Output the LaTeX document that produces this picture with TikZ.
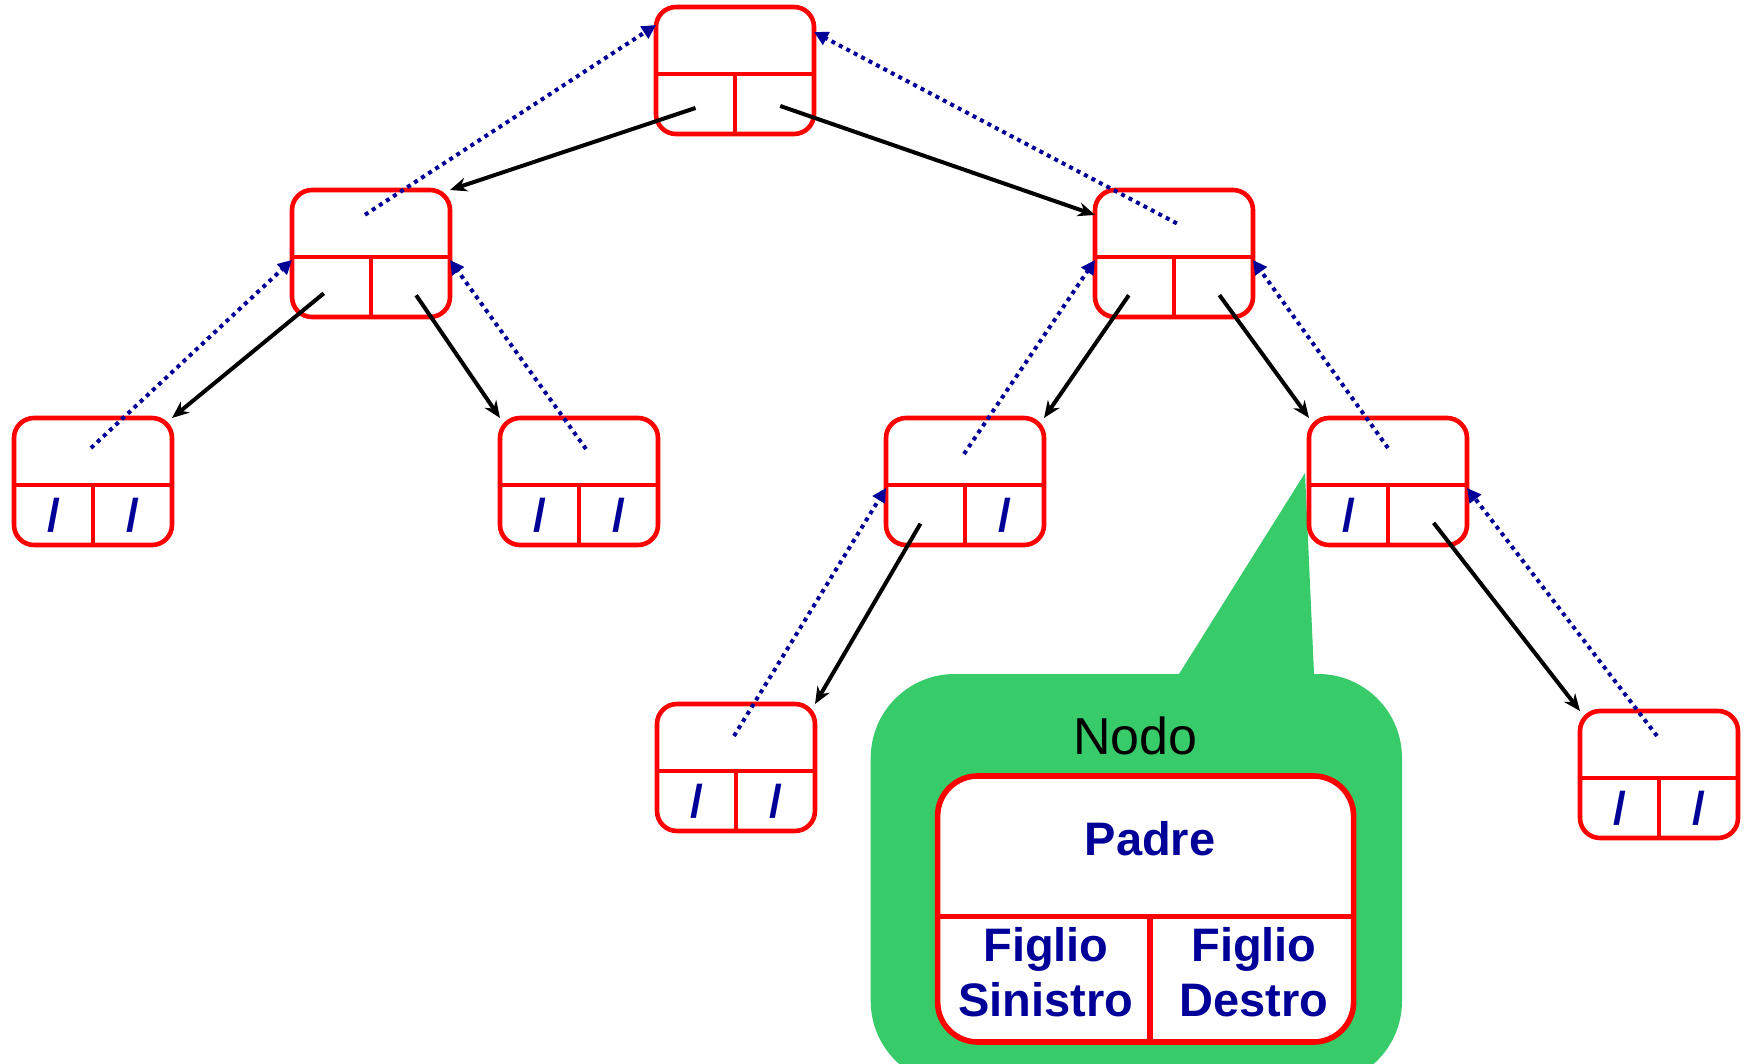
\documentclass[tikz,border=0pt]{standalone}
\usepackage{fontspec}
\setmainfont{Liberation Sans}
\usetikzlibrary{arrows.meta,calc}
\definecolor{nred}{RGB}{255,0,0}
\definecolor{nblue}{RGB}{0,0,153}
\definecolor{cgreen}{RGB}{55,203,105}
\newcommand\treenode[5]{%
  \node[tnode] (#1) at (#2,#3) {};
  \draw[sepline] ([yshift=-33.5pt]#1.north west) -- ([yshift=-33.5pt]#1.north east);
  \draw[sepline] ([yshift=-33.5pt]#1.north) -- (#1.south);
  \node[cell] (#1-l) at ([xshift=-19.75pt,yshift=15pt]#1.south) {#4};
  \node[cell] (#1-r) at ([xshift=19.75pt,yshift=15pt]#1.south) {#5};
  \coordinate (#1-t) at ([yshift=-15pt]#1.north);
}
\begin{document}
\begin{tikzpicture}[x=0.5pt,y=-0.5pt,
  tnode/.style={draw=nred,line width=2.3pt,rounded corners=10pt,minimum width=79pt,minimum height=63.5pt,inner sep=0pt,outer sep=0pt,fill=white},
  sepline/.style={draw=nred,line width=2.3pt},
  cell/.style={inner sep=0pt,text=nblue,font=\fontsize{23}{23}\selectfont\bfseries},
  child/.style={draw=black,line width=2pt,-{Stealth[length=8.5pt,width=7pt]}},
  parent/.style={draw=nblue,line width=2pt,dash pattern=on 2pt off 2.2pt,-{Triangle[length=7pt,width=7pt]}},
  bigbox/.style={draw=nred,line width=2.8pt,rounded corners=20pt,fill=white,minimum width=208pt,minimum height=133pt,inner sep=0pt,outer sep=0pt},
  bigtext/.style={text=nblue,align=center,inner sep=0pt,font=\fontsize{23.5}{27.25}\selectfont\bfseries},
]
\useasboundingbox[fill=white] (0,0) rectangle (1744,1064);

% callout
\begin{scope}
  \clip (0,0) rectangle (1744,1064);
  \fill[cgreen] (1162.7,700) -- (1305,473) -- (1315.2,700) -- cycle;
  \fill[cgreen,rounded corners=42pt] (870.7,674) rectangle (1402,1085);
\end{scope}
\node[inner sep=0pt,font=\fontsize{26}{26}\selectfont] (nodo) at (1135.5,736) {Nodo};
\node[bigbox] (big) at (1145.6,909) {};
\draw[draw=nred,line width=2.8pt] ([yshift=-70.25pt]big.north west) -- ([yshift=-70.25pt]big.north east);
\draw[draw=nred,line width=2.8pt] ([xshift=2.2pt,yshift=-70.25pt]big.north) -- ([xshift=2.2pt]big.south);
\node[bigtext] (padre) at (1150,838.6) {Padre};
\node[bigtext] (fsin) at (1046,972) {Figlio\\Sinistro};
\node[bigtext] (fdes) at (1254,972) {Figlio\\Destro};

% tree nodes
\treenode{root}{735}{70.5}{}{}
\treenode{n1}{371}{253.5}{}{}
\treenode{n2}{1174}{253.5}{}{}
\treenode{n3}{93}{481.5}{/}{/}
\treenode{n4}{579}{481.5}{/}{/}
\treenode{n5}{965}{481.5}{}{/}
\treenode{n6}{1388}{481.5}{/}{}
\treenode{n7}{736}{767.5}{/}{/}
\treenode{n8}{1659}{774.5}{/}{/}

% child pointers
\draw[child] ([yshift=-2pt]root-l.center) -- (n1.north east);
\draw[child,shorten <=3pt] (root-r.center) -- ([yshift=-12.5pt]n2.north west);
\draw[child,shorten <=5pt] (n1-l.center) -- (n3.north east);
\draw[child,shorten <=5pt] (n1-r.center) -- (n4.north west);
\draw[child,shorten <=5pt] (n2-l.center) -- (n5.north east);
\draw[child,shorten <=5pt] (n2-r.center) -- (n6.north west);
\draw[child,shorten <=5pt] (n5-l.center) -- (n7.north east);
\draw[child,shorten <=5pt] (n6-r.center) -- (n8.north west);

% parent pointers
\draw[parent] ([xshift=-3pt,yshift=2.6pt]n1-t) -- ([yshift=-9pt]root.north west);
\draw[parent] ([xshift=1.4pt,yshift=-1.7pt]n2-t) -- ([yshift=-12.5pt]root.north east);
\draw[parent] ([xshift=-1pt]n3-t) -- ([yshift=-35pt]n1.north west);
\draw[parent] ([xshift=3.5pt,yshift=-0.5pt]n4-t) -- ([yshift=-35pt]n1.north east);
\draw[parent] ([xshift=-0.5pt,yshift=-3pt]n5-t) -- ([yshift=-35pt]n2.north west);
\draw[parent] (n6-t) -- ([yshift=-35pt]n2.north east);
\draw[parent] ([xshift=-1pt,yshift=-1pt]n7-t) -- ([yshift=-35pt]n5.north west);
\draw[parent] ([xshift=-1pt,yshift=2.5pt]n8-t) -- ([yshift=-35pt]n6.north east);
\end{tikzpicture}
\end{document}
